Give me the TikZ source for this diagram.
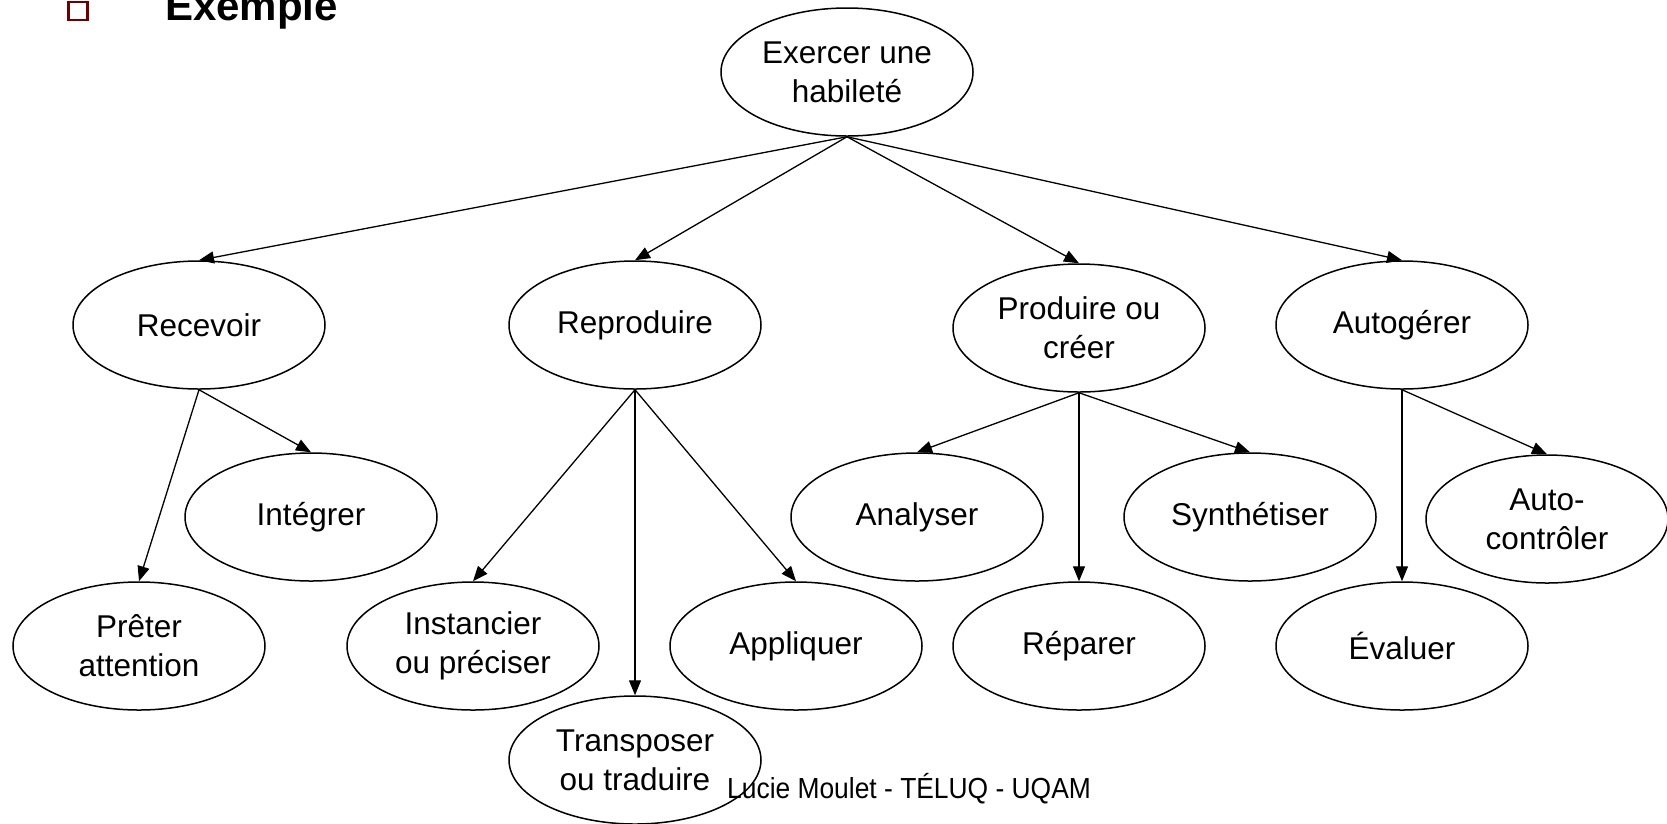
\documentclass[tikz,border=0pt]{standalone}
\usepackage{fontspec}
\setmainfont{Liberation Sans}
\usetikzlibrary{shapes.geometric,arrows.meta}
\begin{document}
\begin{tikzpicture}[x=1pt,y=-1pt,
  oval/.style={draw, ellipse, line width=1.5pt, minimum width=252pt, minimum height=128pt, inner sep=0pt, align=center, font=\fontsize{31.5}{39}\selectfont},
  arr/.style={line width=1.3pt, -{Triangle[length=15pt,width=12pt]}}]
\useasboundingbox (0,0) rectangle (1667,823);
\node[oval] (ex) at (847,72) {Exercer une\\habileté};
\node[oval] (rec) at (199,325) {Recevoir};
\node[oval] (rep) at (635,325) {Reproduire};
\node[oval] (pro) at (1079,328) {Produire ou\\créer};
\node[oval] (aut) at (1402,325) {Autogérer};
\node[oval] (int) at (311,517) {Intégrer};
\node[oval] (pre) at (139,646) {Prêter\\attention};
\node[oval] (ins) at (473,646) {Instancier\\ou préciser};
\node[oval] (tra) at (635,760) {Transposer\\ou traduire};
\node[oval] (app) at (796,646) {Appliquer};
\node[oval] (ana) at (917,517) {Analyser};
\node[oval] (rep2) at (1079,646) {Réparer};
\node[oval] (syn) at (1250,517) {Synthétiser};
\node[oval] (eva) at (1402,646) {Évaluer};
\node[oval, minimum width=242pt] (ctl) at (1547,519) {Auto-\\contrôler};
\draw[arr] (ex.south) -- (rec.north);
\draw[arr] (ex.south) -- (rep.north);
\draw[arr] (ex.south) -- (pro.north);
\draw[arr] (ex.south) -- (aut.north);
\draw[arr] (rec.south) -- (pre.north);
\draw[arr] (rec.south) -- (int.north);
\draw[arr] (rep.south) -- (ins.north);
\draw[arr] (rep.south) -- (tra.north);
\draw[arr] (rep.south) -- (app.north);
\draw[arr] (pro.south) -- (ana.north);
\draw[arr] (pro.south) -- (rep2.north);
\draw[arr] (pro.south) -- (syn.north);
\draw[arr] (aut.south) -- (eva.north);
\draw[arr] (aut.south) -- (ctl.north);
\definecolor{bulletred}{RGB}{112,0,0}
\node[draw=bulletred, line width=2.5pt, minimum width=19pt, minimum height=18pt, inner sep=0pt] (bul) at (78,11) {};
\node[anchor=base west, inner sep=0pt, font=\fontsize{42}{45}\selectfont\bfseries] (title) at (165,20) {Exemple};
\node[anchor=base west, inner sep=0pt, font=\fontsize{29}{32}\selectfont] (foot) at (727,798) {\scalebox{0.91}[1]{Lucie Moulet - TÉLUQ - UQAM}};
\end{tikzpicture}
\end{document}
